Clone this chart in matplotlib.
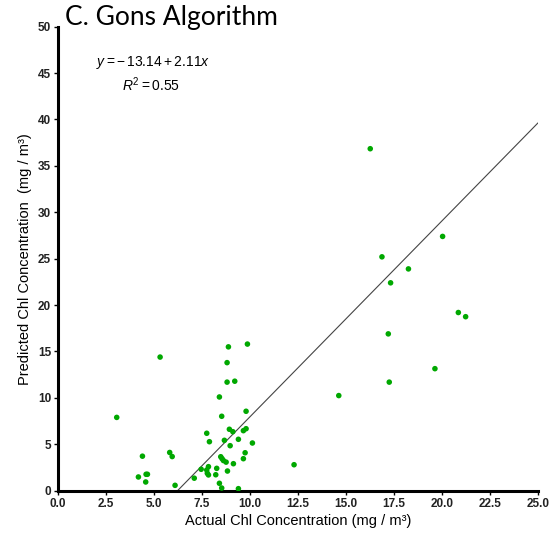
import matplotlib
matplotlib.use('Agg')
import matplotlib.pyplot as plt
import numpy as np

plt.rcParams['font.family'] = ['Liberation Sans', 'DejaVu Sans']
plt.rcParams['mathtext.fontset'] = 'custom'
plt.rcParams['mathtext.rm'] = 'Liberation Sans'
plt.rcParams['mathtext.it'] = 'Liberation Sans:italic'

# actual vs predicted chl
actual = [3.06, 4.19, 4.40, 4.59, 4.66, 4.57, 5.32, 5.82, 5.95, 6.10,
          7.10, 7.46, 7.75, 7.89, 7.84, 7.75, 7.78, 7.84, 8.22, 8.27,
          8.41, 8.53, 8.41, 8.53, 8.48, 8.55, 8.62, 8.76, 8.67, 8.83,
          8.81, 8.81, 8.88, 8.93, 9.11, 8.97, 9.14, 9.21, 9.40, 9.40,
          9.66, 9.80, 9.75, 9.66, 9.80, 9.87, 10.13, 12.3, 14.63, 16.27,
          16.88, 17.21, 17.26, 17.33, 18.26, 19.64, 20.04, 20.86, 21.24]
predicted = [7.9, 1.48, 3.72, 1.77, 1.77, 0.94, 14.4, 4.12, 3.68, 0.58,
             1.35, 2.31, 6.19, 5.28, 2.59, 2.23, 1.88, 1.70, 1.72, 2.41,
             10.1, 8.02, 0.80, 0.29, 3.66, 3.45, 3.25, 3.08, 5.43, 2.12,
             11.7, 13.8, 15.5, 6.62, 6.36, 4.85, 2.91, 11.8, 5.54, 0.22,
             6.47, 6.68, 4.09, 3.45, 8.56, 15.8, 5.14, 2.8, 10.25, 36.85,
             25.2, 16.9, 11.7, 22.4, 23.9, 13.15, 27.4, 19.2, 18.75]

intercept = -13.14
slope = 2.11
r2 = 0.55

x_ticks = [0.0, 2.5, 5.0, 7.5, 10.0, 12.5, 15.0, 17.5, 20.0, 22.5, 25.0]
y_ticks = [0, 5, 10, 15, 20, 25, 30, 35, 40, 45, 50]

fig = plt.figure(figsize=(5.55, 5.5), dpi=100)
ax = fig.add_axes([0.1045, 0.1078, 0.8645, 0.8437])

ax.scatter(actual, predicted, s=16, color='#00a800', edgecolors='none', zorder=3)

# fit line, starts where it crosses zero
x0 = -intercept / slope
xs = np.array([x0, 25.0])
ax.plot(xs, intercept + slope * xs, color='#444444', lw=0.8, zorder=2)

ax.set_xlim(0, 25)
ax.set_ylim(0, 50)
ax.set_xticks(x_ticks)
ax.set_xticklabels(['%.1f' % v for v in x_ticks])
ax.set_yticks(y_ticks)
for s in ['top', 'right']:
    ax.spines[s].set_visible(False)
for s in ['left', 'bottom']:
    ax.spines[s].set_linewidth(2.2)
ax.tick_params(direction='out', length=3, width=1, labelsize=8.5, pad=2)
for lab in ax.get_xticklabels() + ax.get_yticklabels():
    lab.set_fontweight('bold')
    lab.set_color('#222222')

ax.set_xlabel('Actual Chl Concentration (mg / m³)', fontsize=10.5, labelpad=3)
ax.set_ylabel('Predicted Chl Concentration  (mg / m³)', fontsize=10.5, labelpad=4)

ax.text(2.0, 46.1, r'$y = -\,13.14 + 2.11x$', fontsize=10, va='center')
ax.text(3.35, 43.7, r'$R^2 = %.2f$' % r2, fontsize=10, va='center')

fig.text(0.117, 0.954, 'C. Gons Algorithm', fontsize=19, family=['Lato', 'DejaVu Sans'],
         va='baseline', ha='left')

fig.savefig('out.png', dpi=100)
